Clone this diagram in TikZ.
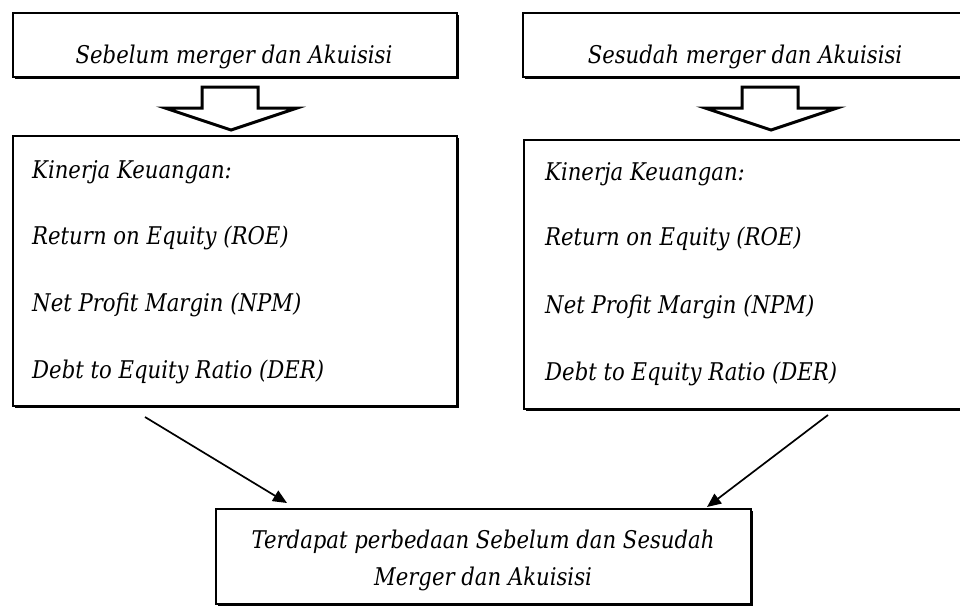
\documentclass[tikz,border=0pt]{standalone}
\usepackage{graphicx}
\usepackage{fontspec}
\setmainfont{DejaVu Serif}
\usetikzlibrary{shadows,arrows.meta}
\newcommand{\tallt}[1]{\scalebox{1}[1.15]{#1}}
\begin{document}
\begin{tikzpicture}[x=1pt,y=-1pt,
  box/.style={draw=black, line width=2.6pt, fill=white, inner sep=0pt, outer sep=0pt,
    drop shadow={shadow xshift=2.4pt, shadow yshift=-2.4pt, fill=black, opacity=1}},
  txt/.style={inner sep=0pt, font=\itshape\fontsize{21.2}{25}\selectfont},
  blockarrow/.style={draw=black, line width=3pt, fill=white, line join=miter},
  conn/.style={draw=black, line width=1.7pt, -{Triangle[length=14pt,width=12pt]}}]
\useasboundingbox (0,0) rectangle (960,608);
\clip (0,0) rectangle (960,608);
% boxes
\node[box, minimum width=444pt, minimum height=64pt] (topL) at (235,45) {};
\node[box, minimum width=456pt, minimum height=64pt] (topR) at (751,45) {};
\node[box, minimum width=444pt, minimum height=270pt] (midL) at (235,271) {};
\node[box, minimum width=456pt, minimum height=269pt] (midR) at (752,274.5) {};
\node[box, minimum width=535pt, minimum height=95pt] (bot) at (483.5,556.5) {};
% texts
\node[txt, anchor=base] (tL) at (234,63) {\tallt{Sebelum merger dan Akuisisi}};
\node[txt, anchor=base] (tR) at (745,63) {\tallt{Sesudah merger dan Akuisisi}};
\node[txt, anchor=base west] (l1) at (32,178) {\tallt{Kinerja Keuangan:}};
\node[txt, anchor=base west] (l2) at (32,244) {\tallt{Return on Equity (ROE)}};
\node[txt, anchor=base west] (l3) at (32,311) {\tallt{Net Profit Margin (NPM)}};
\node[txt, anchor=base west] (l4) at (32,378) {\tallt{Debt to Equity Ratio (DER)}};
\node[txt, anchor=base west] (r1) at (545,180) {\tallt{Kinerja Keuangan:}};
\node[txt, anchor=base west] (r2) at (545,245) {\tallt{Return on Equity (ROE)}};
\node[txt, anchor=base west] (r3) at (545,313) {\tallt{Net Profit Margin (NPM)}};
\node[txt, anchor=base west] (r4) at (545,380) {\tallt{Debt to Equity Ratio (DER)}};
\node[txt, anchor=base] (b1) at (483,548) {\tallt{Terdapat perbedaan Sebelum dan Sesudah}};
\node[txt, anchor=base] (b2) at (483,585) {\tallt{Merger dan Akuisisi}};
% block arrows
\path[blockarrow] (202,87) -- (258,87) -- (258,108) -- (297,108) -- (231,130) -- (165,108) -- (202,108) -- cycle;
\path[blockarrow] (742,87) -- (798,87) -- (798,108) -- (837,108) -- (771,130) -- (705,108) -- (742,108) -- cycle;
% connectors
\coordinate (sL) at (145,417);
\coordinate (eL) at (287,503);
\coordinate (sR) at (828,415);
\coordinate (eR) at (707,507);
\draw[conn] (sL) -- (eL);
\draw[conn] (sR) -- (eR);
\end{tikzpicture}
\end{document}
